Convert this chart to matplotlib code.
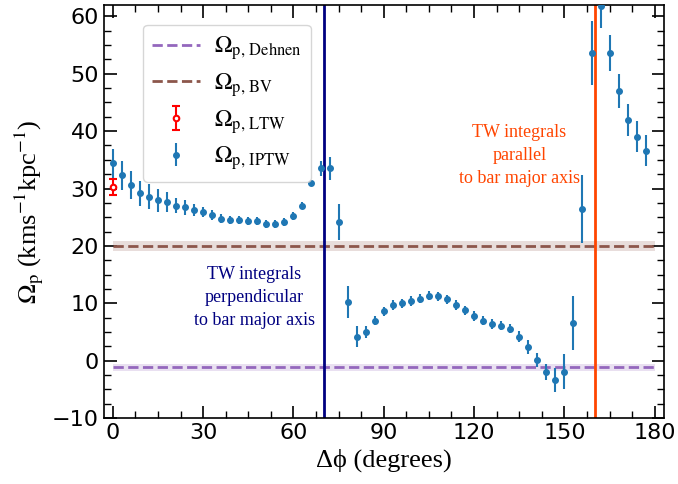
import numpy as np
import matplotlib
matplotlib.use('Agg')
import matplotlib.pyplot as plt
from matplotlib.ticker import MultipleLocator

plt.rcParams['mathtext.fontset'] = 'stix'

# IPTW pattern speed vs. angle between integration direction and bar
dphi = np.arange(0, 180, 3)
omega_iptw = [34.4, 32.3, 30.6, 29.2, 28.6, 28.0, 27.7, 27.0, 26.7, 26.3,
              25.9, 25.4, 24.75, 24.6, 24.6, 24.4, 24.35, 23.9, 23.9, 24.2,
              25.2, 27.0, 30.9, 33.5, 33.5, 24.2, 10.3, 4.2, 5.0, 7.0,
              8.6, 9.7, 10.0, 10.4, 10.8, 11.35, 11.2, 10.7, 9.7, 8.8,
              7.8, 7.0, 6.4, 6.1, 5.6, 4.2, 2.4, 0.2, -2.0, -3.3,
              -1.9, 6.6, 26.4, 53.6, 61.8, 53.6, 47.0, 41.9, 39.0, 36.6]
err_iptw = [2.5, 2.5, 2.4, 2.2, 2.2, 2.0, 1.7, 1.3, 1.3, 1.0,
            0.9, 0.9, 0.8, 0.7, 0.7, 0.7, 0.7, 0.7, 0.7, 0.7,
            0.7, 0.6, 0.5, 1.3, 2.0, 3.1, 2.8, 1.8, 1.0, 0.8,
            0.8, 0.8, 0.8, 0.8, 0.8, 0.8, 0.8, 0.8, 0.8, 0.8,
            0.8, 0.8, 0.8, 0.8, 0.8, 1.0, 1.2, 1.2, 1.4, 2.1,
            3.1, 4.7, 5.9, 5.5, 3.8, 3.2, 2.9, 2.8, 2.7, 2.7]

# LTW value
ltw_x = [0]
ltw_y = [30.3]
ltw_err = [1.4]

# reference pattern speeds (value, half width of band)
omega_dehnen, band_dehnen = -1.1, 0.6
omega_bv, band_bv = 20.0, 0.8

phi_perp = 70
phi_par = 160

fig = plt.figure(figsize=(6.78, 4.84), dpi=100)
ax = fig.add_axes([0.153, 0.136, 0.826, 0.854])

ax.fill_between([0, 180], omega_dehnen - band_dehnen, omega_dehnen + band_dehnen,
                color='tab:purple', alpha=0.2, lw=0)
ax.plot([0, 180], [omega_dehnen, omega_dehnen], '--', color='tab:purple', lw=2,
        label=r'$\Omega_{\rm p,\,Dehnen}$')
ax.fill_between([0, 180], omega_bv - band_bv, omega_bv + band_bv,
                color='tab:brown', alpha=0.2, lw=0)
ax.plot([0, 180], [omega_bv, omega_bv], '--', color='tab:brown', lw=2,
        label=r'$\Omega_{\rm p,\,BV}$')

ax.errorbar(ltw_x, ltw_y, yerr=ltw_err, fmt='o', color='red', mfc='white',
            mec='red', ms=4, mew=1.5, capsize=3, elinewidth=1.5, zorder=4,
            label=r'$\Omega_{\rm p,\,LTW}$')
ax.errorbar(dphi, omega_iptw, yerr=err_iptw, fmt='o', color='tab:blue', ms=4,
            elinewidth=1.5, zorder=3, label=r'$\Omega_{\rm p,\,IPTW}$')

ax.axvline(phi_perp, color='navy', lw=2)
ax.axvline(phi_par, color='orangered', lw=2)

ax.text(47, 11.0, 'TW integrals\nperpendicular\nto bar major axis', color='navy',
        ha='center', va='center', fontsize=13, family='Liberation Serif',
        linespacing=1.45)
ax.text(135, 35.7, 'TW integrals\nparallel\nto bar major axis', color='orangered',
        ha='center', va='center', fontsize=13, family='Liberation Serif',
        linespacing=1.45)

ax.set_xlim(-3, 183)
ax.set_ylim(-10, 62)
ax.xaxis.set_major_locator(MultipleLocator(30))
ax.xaxis.set_minor_locator(MultipleLocator(7.5))
ax.yaxis.set_major_locator(MultipleLocator(10))
ax.yaxis.set_minor_locator(MultipleLocator(2.5))
ax.tick_params(which='both', direction='in', top=True, right=True, labelsize=16)
ax.tick_params(which='major', length=9, width=1.2)
ax.tick_params(which='minor', length=5, width=1.0)
for s in ax.spines.values():
    s.set_linewidth(1.2)

ax.set_xlabel('\u0394\u03d5 (degrees)', fontsize=19,
              family=['Liberation Serif', 'DejaVu Serif'])
ax.set_ylabel(r'$\Omega_{\rm p}$ (kms$^{-1}$kpc$^{-1}$)', fontsize=19,
              family='Liberation Serif')

ax.legend(loc='upper left', bbox_to_anchor=(0.07, 0.952), borderaxespad=0,
          fontsize=17, handlelength=2.0, labelspacing=0.35, borderpad=0.4,
          handletextpad=0.6)

fig.savefig('out.png', dpi=100)
